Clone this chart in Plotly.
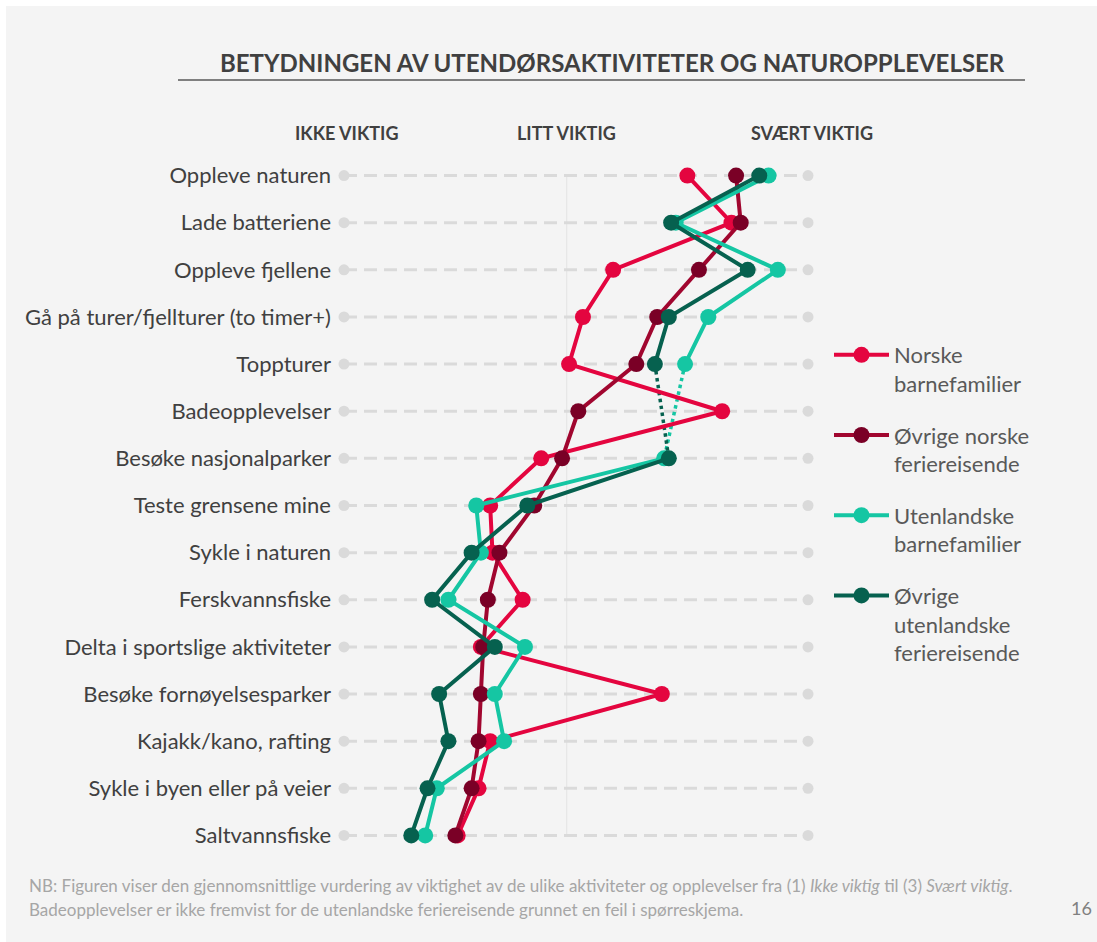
import plotly.graph_objects as go

categories = [
    "Oppleve naturen", "Lade batteriene", "Oppleve fjellene",
    "Gå på turer/fjellturer (to timer+)", "Toppturer", "Badeopplevelser",
    "Besøke nasjonalparker", "Teste grensene mine", "Sykle i naturen",
    "Ferskvannsfiske", "Delta i sportslige aktiviteter",
    "Besøke fornøyelsesparker", "Kajakk/kano, rafting",
    "Sykle i byen eller på veier", "Saltvannsfiske",
]
series_names = [
    "Norske<br>barnefamilier",
    "Øvrige norske<br>feriereisende",
    "Utenlandske<br>barnefamilier",
    "Øvrige<br>utenlandske<br>feriereisende",
]
norske_barnefamilier = [2.48, 2.67, 2.16, 2.03, 1.97, 2.63, 1.85, 1.63, 1.64, 1.77, 1.59, 2.37, 1.63, 1.58, 1.49]
ovrige_norske = [2.69, 2.71, 2.53, 2.35, 2.26, 2.01, 1.94, 1.82, 1.67, 1.62, 1.60, 1.59, 1.58, 1.55, 1.48]
utenlandske_barnefamilier = [2.83, 2.43, 2.87, 2.57, 2.47, None, 2.38, 1.57, 1.59, 1.45, 1.78, 1.65, 1.69, 1.40, 1.35]
ovrige_utenlandske = [2.79, 2.41, 2.74, 2.40, 2.34, None, 2.40, 1.79, 1.55, 1.38, 1.65, 1.41, 1.45, 1.36, 1.29]
scale_labels = ["IKKE VIKTIG", "LITT VIKTIG", "SVÆRT VIKTIG"]
scale_min, scale_mid, scale_max = 1, 1.96, 3

marker_colors = ["#E4053F", "#7A0026", "#15C6A3", "#06614F"]
line_colors = ["#E4053F", "#A1062F", "#15C6A3", "#06614F"]
all_series = [norske_barnefamilier, ovrige_norske, utenlandske_barnefamilier, ovrige_utenlandske]

W, H = 1097, 942
L, R = 336, 820
T, B = 152, 859
FONT = "Lato"

rows = list(range(len(categories)))
fig = go.Figure()

# background dashed guide lines
for i in rows:
    fig.add_trace(go.Scatter(
        x=[scale_min, scale_max], y=[i, i], mode="lines",
        line=dict(color="#DADADA", width=3, dash="13px,7px"),
        hoverinfo="skip", showlegend=False))
fig.add_trace(go.Scatter(
    x=[scale_min] * len(rows) + [scale_max] * len(rows), y=rows + rows,
    mode="markers", marker=dict(color="#DADADA", size=11),
    hoverinfo="skip", showlegend=False))

# dotted connections over missing Badeopplevelser
for k in (2, 3):
    s = all_series[k]
    fig.add_trace(go.Scatter(
        x=[s[4], s[6]], y=[4, 6], mode="lines",
        line=dict(color=line_colors[k], width=3.5, dash="dot"),
        hoverinfo="skip", showlegend=False))

for k, s in enumerate(all_series):
    fig.add_trace(go.Scatter(
        x=s, y=rows, mode="lines+markers", name=series_names[k],
        legendgroup=str(k), connectgaps=False,
        line=dict(color=line_colors[k], width=4),
        marker=dict(color=marker_colors[k], size=16, line=dict(width=0)),
        hoverinfo="skip"))

def px_x(p):
    return (p - L) / (R - L)

def px_y(p):
    return (B - p) / (B - T)

annotations = [
    dict(text="<b>BETYDNINGEN AV UTENDØRSAKTIVITETER OG NATUROPPLEVELSER</b>",
         x=px_x(612), y=px_y(63), xref="paper", yref="paper", showarrow=False,
         xanchor="center", yanchor="middle",
         font=dict(family=FONT, size=24, color="#404040")),
]
for lab, xv in zip(scale_labels, [346, 566, 812]):
    annotations.append(dict(
        text=f"<b>{lab}</b>", x=px_x(xv), y=px_y(133), xref="paper", yref="paper",
        showarrow=False, xanchor="center", yanchor="middle",
        font=dict(family=FONT, size=18, color="#404040")))
annotations.append(dict(
    text="NB: Figuren viser den gjennomsnittlige vurdering av viktighet av de ulike aktiviteter og opplevelser fra (1) <i>Ikke viktig</i> til (3) <i>Svært viktig</i>.",
    x=px_x(27), y=px_y(885), xref="paper", yref="paper", showarrow=False,
    xanchor="left", yanchor="middle", font=dict(family=FONT, size=17, color="#A6A6A6")))
annotations.append(dict(
    text="Badeopplevelser er ikke fremvist for de utenlandske feriereisende grunnet en feil i spørreskjema.",
    x=px_x(27), y=px_y(909), xref="paper", yref="paper", showarrow=False,
    xanchor="left", yanchor="middle", font=dict(family=FONT, size=17, color="#A6A6A6")))
annotations.append(dict(
    text="16", x=px_x(1081), y=px_y(908), xref="paper", yref="paper", showarrow=False,
    xanchor="center", yanchor="middle", font=dict(family=FONT, size=18, color="#808080")))

shapes = [
    dict(type="rect", xref="paper", yref="paper", x0=px_x(6), x1=px_x(W + 5),
         y0=px_y(6), y1=px_y(H + 5), fillcolor="#F4F4F4", line=dict(width=0), layer="below"),
    dict(type="line", xref="paper", yref="paper", x0=px_x(178), x1=px_x(1025),
         y0=px_y(80), y1=px_y(80), line=dict(color="#595959", width=1.5)),
    dict(type="line", xref="x", yref="y", x0=scale_mid, x1=scale_mid, y0=0, y1=14,
         line=dict(color="#E3E3E3", width=1), layer="below"),
]

fig.update_layout(
    width=W, height=H,
    margin=dict(l=L, r=W - R, t=T, b=H - B, pad=0),
    paper_bgcolor="#FFFFFF", plot_bgcolor="rgba(0,0,0,0)",
    font=dict(family=FONT, color="#404040"),
    xaxis=dict(range=[1 - (344 - L) / 232, 3 + (R - 808) / 232], showgrid=False,
               zeroline=False, showticklabels=False, showline=False, fixedrange=True),
    yaxis=dict(range=[14.5, -0.5], tickvals=rows, ticktext=categories, showgrid=False,
               zeroline=False, showline=False, ticks="", ticklabelstandoff=4,
               tickfont=dict(family=FONT, size=22, color="#404040"), fixedrange=True),
    legend=dict(x=px_x(829), y=px_y(334), xanchor="left", yanchor="top",
                font=dict(family=FONT, size=22, color="#595959"),
                tracegroupgap=20, valign="top", bgcolor="rgba(0,0,0,0)",
                itemwidth=55),
    annotations=annotations, shapes=shapes, hovermode=False,
)

fig.write_html("out.html", config={"displayModeBar": False},
               post_script="document.body.style.margin='0';document.body.style.overflow='hidden';")
